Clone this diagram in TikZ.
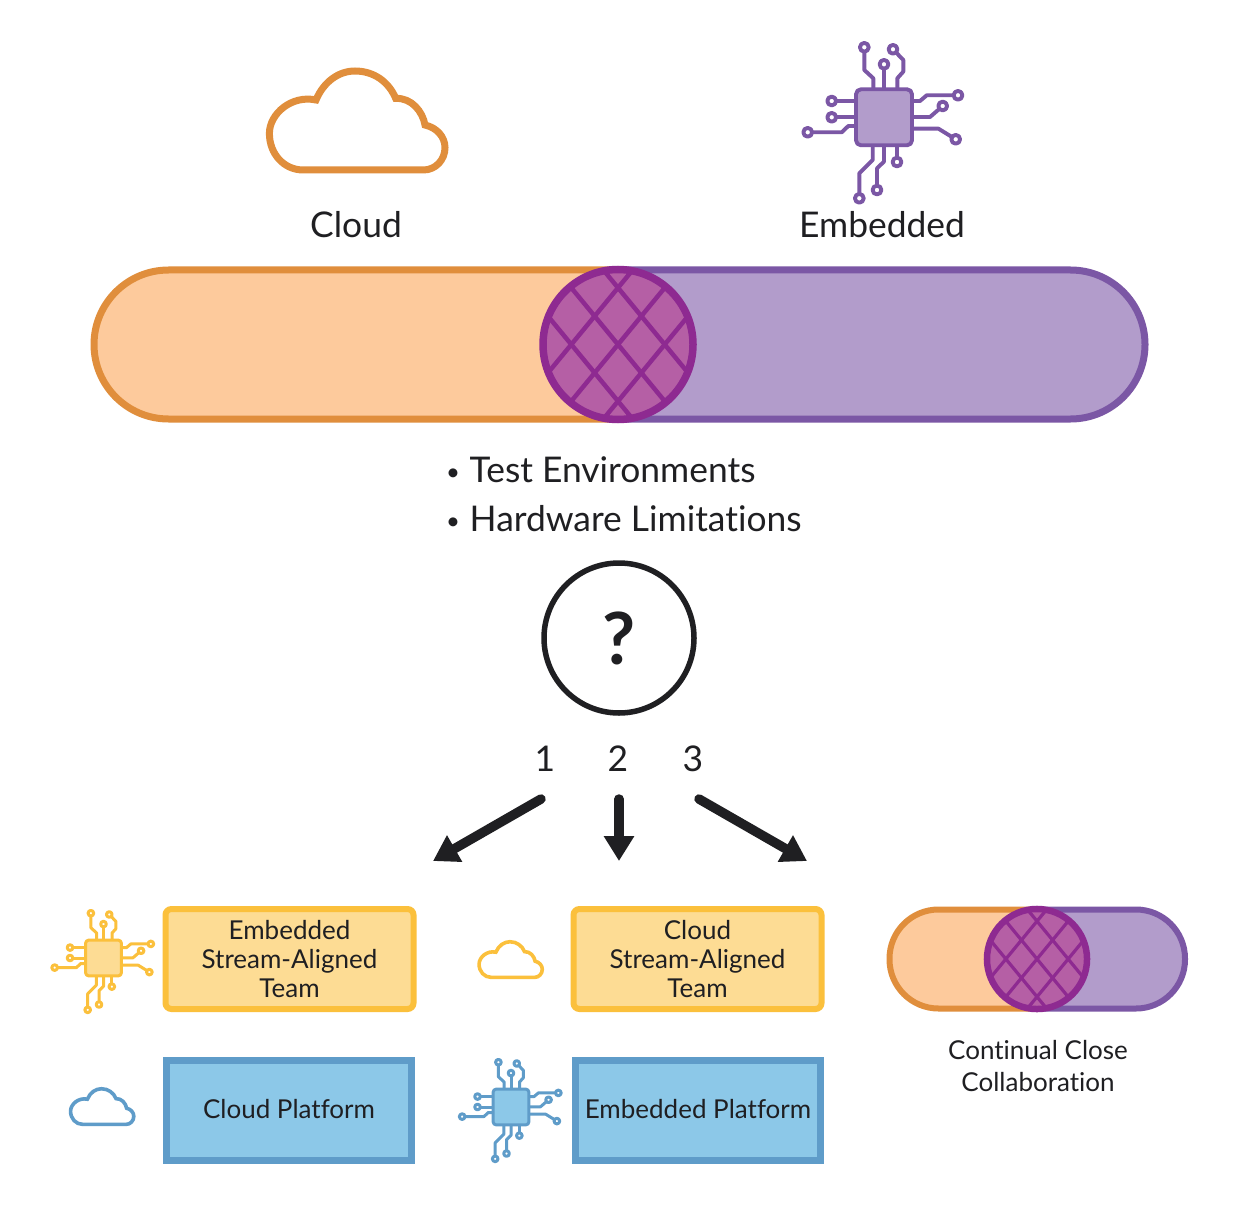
\documentclass[tikz,border=0pt]{standalone}
\usepackage{fontspec}
\setmainfont[Ligatures=NoCommon]{Lato}
\usetikzlibrary{arrows.meta}
\definecolor{orS}{HTML}{E08E3C}
\definecolor{orF}{HTML}{FDCA9C}
\definecolor{puS}{HTML}{7B57A5}
\definecolor{puF}{HTML}{B29CCB}
\definecolor{maS}{HTML}{8E2A91}
\definecolor{maF}{HTML}{B55FA5}
\definecolor{yeS}{HTML}{FBC03C}
\definecolor{yeF}{HTML}{FDDC94}
\definecolor{blS}{HTML}{5F9CC9}
\definecolor{blF}{HTML}{8CC8E8}
\definecolor{ink}{HTML}{1F1F22}
\tikzset{
  x=1pt,y=-1pt,
  lbl/.style={text=ink,inner sep=0pt,align=center},
  bigtext/.style={lbl,font=\fontsize{35.4}{48}\selectfont},
  boxtext/.style={lbl,font=\fontsize{26}{29}\selectfont},
  yellowbox/.style={draw=yeS,fill=yeF,line width=6pt,rounded corners=6pt,minimum width=248pt,minimum height=100pt,inner sep=0pt},
  bluebox/.style={draw=blS,fill=blF,line width=7pt,minimum width=245.5pt,minimum height=100pt,inner sep=0pt},
  bigarrow/.style={draw=ink,line width=9.5pt,line cap=round,-{Triangle[length=25pt,width=29pt]}},
}
% x, y, scale, stroke, fill, line width
\newcommand{\chipicon}[6]{%
\begin{scope}[shift={(#1,#2)},scale=#3,draw=#4,line width=#6,line join=round]
 \foreach \p in {
   {(-19.7,-70)--(-19.7,-47.3)--(-10.7,-39)--(-10.7,-29)},
   {(0,-53)--(0,-29)},
   {(9,-68)--(19.3,-57.3)--(19.3,-45.7)--(13.3,-39)--(13.3,-29)},
   {(-52.3,-16.3)--(-28,-16.3)},
   {(-52.3,0)--(-28,0)},
   {(-76.3,15)--(-42.3,15)--(-35.7,8.7)--(-28,8.7)},
   {(74,-22)--(42.7,-22)--(36,-16.3)--(28,-16.3)},
   {(58.7,-11.3)--(46,-0.3)--(28,-0.3)},
   {(71.7,22)--(54.3,11.3)--(28,11.3)},
   {(13,44.7)--(13,29)},
   {(-7,72.7)--(-7,51)--(0,44.3)--(0,29)},
   {(-24.7,81)--(-24.7,56)--(-11.3,42.7)--(-11.3,29)}
 } {\draw \p;}
 \foreach \c in {(-19.7,-70),(0,-53),(9,-68),(-52.3,-16.3),(-52.3,0),(-76.3,15),(74,-22),(58.7,-11.3),(71.7,22),(13,44.7),(-7,72.7),(-24.7,81)}
   {\filldraw[fill=white] \c circle[radius=4.4];}
 \filldraw[fill=#5,rounded corners=#3*5pt] (-28,-28) rectangle (28,28);
\end{scope}}
% x, y, scale, stroke, line width
\newcommand{\cloudicon}[5]{%
\begin{scope}[shift={(#1,#2)},scale=#3]
 \draw[#4,line width=#5,line join=miter] (-53.3,48.3)
   .. controls (-73,48.3) and (-87.3,32) .. (-87.3,11.7)
   .. controls (-87.3,-8) and (-65,-27) .. (-40.7,-21.7)
   .. controls (-33,-40) and (-18,-50.7) .. (-1.7,-50.7)
   .. controls (17,-50.7) and (32,-40) .. (39,-23.3)
   .. controls (55,-24) and (66,-10) .. (68.3,3.3)
   .. controls (80,6) and (88.3,15) .. (88.3,26)
   .. controls (88.3,38) and (79,48.3) .. (66.7,48.3) -- cycle;
\end{scope}}
% x, y, scale, border width, hatch width
\newcommand{\hatchball}[5]{%
\begin{scope}[shift={(#1,#2)},scale=#3]
 \fill[maF] (0,0) circle[radius=75];
 \begin{scope}
  \clip (0,0) circle[radius=75];
  \foreach \o in {-46.7,0,46.7} {
    \draw[maS,line width=#5] (\o-70,-85) -- (\o+70,85);
    \draw[maS,line width=#5] (\o+70,-85) -- (\o-70,85);
  }
 \end{scope}
 \draw[maS,line width=#4] (0,0) circle[radius=75];
\end{scope}}
% left, top, right, bottom, radius, width, split
\newcommand{\pillbar}[7]{%
 \begin{scope}
  \clip (#1-10,#2-10) rectangle (#7,#4+10);
  \draw[orS,fill=orF,line width=#6,rounded corners=#5] (#1,#2) rectangle (#3,#4);
 \end{scope}
 \begin{scope}
  \clip (#7,#2-10) rectangle (#3+10,#4+10);
  \draw[puS,fill=puF,line width=#6,rounded corners=#5] (#1,#2) rectangle (#3,#4);
 \end{scope}}
\newcommand{\smallbullet}{\makebox[23.5pt][l]{\fontsize{24}{24}\selectfont\raisebox{2pt}{•}}}
\begin{document}
\begin{tikzpicture}
\useasboundingbox (0,0) rectangle (1238,1214);
\fill[white] (0,0) rectangle (1238,1214);
\cloudicon{356.7}{121.7}{1}{orS}{7pt}
\chipicon{884}{117.3}{1}{puS}{puF}{3.9pt}
\node[bigtext] (cloudlbl) at (356,225) {Cloud};
\node[bigtext] (emblbl) at (882,225) {Embedded};
\pillbar{94}{270}{1145}{419}{74.5pt}{7pt}{618}
\hatchball{618}{344.5}{1}{7.5pt}{4.5pt}
\node[bigtext,anchor=west] (b1) at (446,470) {\smallbullet Test Environments};
\node[bigtext,anchor=west] (b2) at (446,519) {\smallbullet Hardware Limitations};
\node[circle,draw=ink,line width=5.5pt,minimum size=150pt,inner sep=0pt,text=ink,font=\fontsize{72}{72}\bfseries\selectfont] (q) at (619,638) {?};
\node[bigtext] (n1) at (545,759) {1};
\node[bigtext] (n2) at (618,759) {2};
\node[bigtext] (n3) at (693,759) {3};
\coordinate (s1) at (541,799); \coordinate (t1) at (433,861);
\coordinate (s2) at (619,799); \coordinate (t2) at (619,861);
\coordinate (s3) at (699,799); \coordinate (t3) at (807,861);
\draw[bigarrow] (s1) -- (t1);
\draw[bigarrow] (s2) -- (t2);
\draw[bigarrow] (s3) -- (t3);
\chipicon{103.5}{958}{0.64}{yeS}{yeF}{3pt}
\node[yellowbox,boxtext] (esa) at (289.5,959) {Embedded\\Stream-Aligned\\Team};
\cloudicon{510.5}{960}{0.36}{yeS}{3.6pt}
\node[yellowbox,boxtext] (csa) at (697.5,959) {Cloud\\Stream-Aligned\\Team};
\cloudicon{102}{1107}{0.36}{blS}{3.6pt}
\node[bluebox,boxtext] (cp) at (289,1110) {\raisebox{2pt}{Cloud Platform}};
\chipicon{511}{1107}{0.64}{blS}{blF}{3pt}
\node[bluebox,boxtext] (ep) at (698,1110) {\raisebox{2pt}{Embedded Platform}};
\pillbar{889.5}{909.5}{1185}{1008.5}{49pt}{6pt}{1037}
\hatchball{1037}{959}{0.667}{6.5pt}{3.2pt}
\node[boxtext] (ccc) at (1038,1066) {Continual Close\\[3pt]Collaboration};
\end{tikzpicture}
\end{document}
